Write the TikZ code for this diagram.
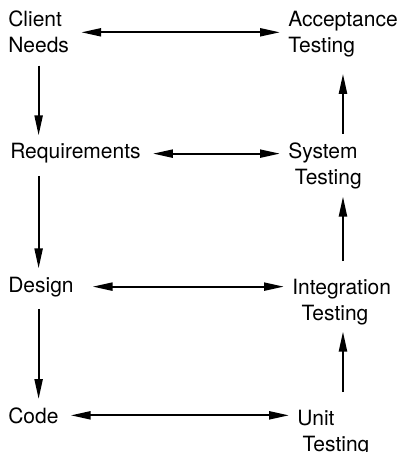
\documentclass[tikz,border=0pt]{standalone}
\usepackage{fontspec}
\setmainfont{TeX Gyre Heros}
\usetikzlibrary{arrows.meta}
\tikzset{
	stage/.style = {inner sep=0pt, anchor=base west, align=left, font=\fontsize{15.75}{19.5}\selectfont}, % one step of the life cycle
	flow/.style = {-{Triangle[length=15pt, width=6pt]}, line width=1.6pt, shorten <=9pt, shorten >=6pt},
	both/.style = {flow, {Triangle[length=15pt, width=6pt]}-{Triangle[length=15pt, width=6pt]}}, % two-way link between the columns
	climb/.style = {flow, shorten <=13pt, shorten >=5pt}
}

\begin{document}
\begin{tikzpicture}[x=0.75pt, y=-0.75pt]
	\useasboundingbox (0,0) rectangle (399,452);
	% left column
	\node[stage] (client) at (8,53) {Client\\Needs};
	\node[stage] (req) at (10,159) {Requirements};
	\node[stage] (design) at (8,292) {Design};
	\node[stage] (code) at (8,423) {Code};
	% right column
	\node[stage] (accept) at (288,53) {Acceptance\\Testing};
	\node[stage] (sys) at (288,185) {System\\\hspace*{5pt}Testing};
	\node[stage] (integ) at (292,320) {Integration\\\hspace*{7pt}Testing};
	\node[stage] (unit) at (297,451) {Unit\\\hspace*{4pt}Testing};
	% links across
	\draw[both] (client.east) -- (client.east -| accept.west);
	\draw[both] (req.east) -- (req.east -| sys.west);
	\draw[both, shorten <=14pt] (design.east) -- (design.east -| integ.west);
	\draw[both] (code.east) -- (code.east -| unit.west);
	% down the left
	\draw[flow] (client.south) -- (client.south |- req.north);
	\draw[flow] (req.south -| client.south) -- (design.north -| client.south);
	\draw[flow] (design.south -| client.south) -- (code.north -| client.south);
	% up the right
	\draw[climb] (unit.north -| accept.south) -- (integ.south -| accept.south);
	\draw[climb] (integ.north -| accept.south) -- (sys.south -| accept.south);
	\draw[climb, shorten <=7pt, shorten >=12pt] (sys.north -| accept.south) -- (accept.south);
\end{tikzpicture}
\end{document}
